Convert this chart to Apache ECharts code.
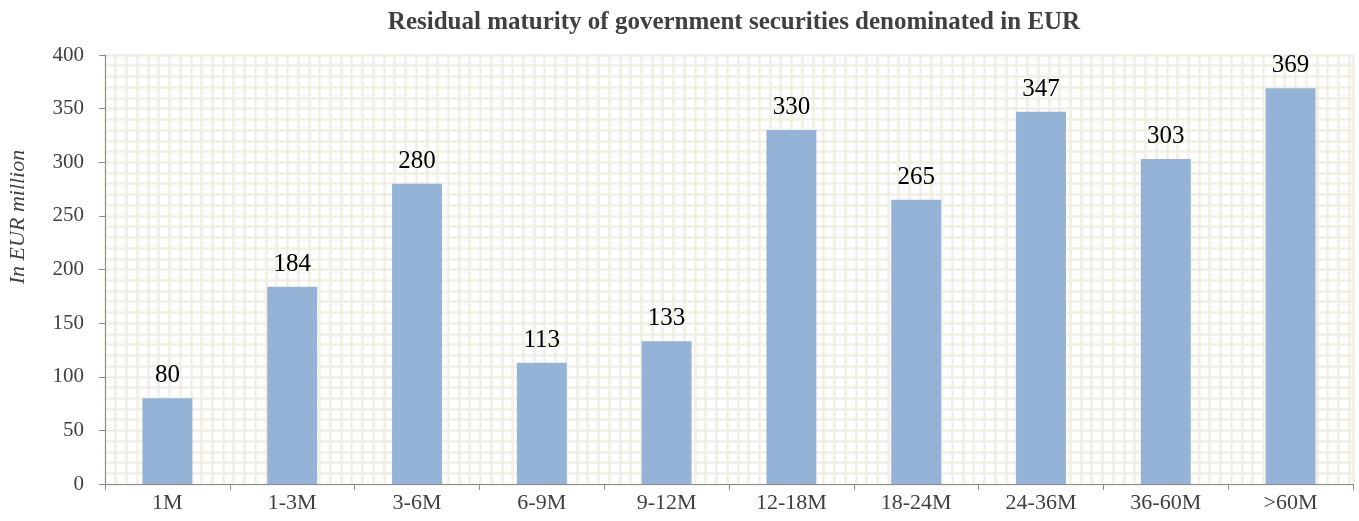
<!DOCTYPE html>
<html>
<head>
<meta charset="utf-8">
<script src="https://cdn.jsdelivr.net/npm/echarts@6/dist/echarts.min.js"></script>
<style>
  html, body { margin: 0; padding: 0; background: #fff; }
  #chart { width: 1359px; height: 521px; }
</style>
</head>
<body>
<div id="chart"></div>
<script>
// Residual maturity buckets and outstanding amounts (EUR million)
const maturities = ['1M', '1-3M', '3-6M', '6-9M', '9-12M', '12-18M', '18-24M', '24-36M', '36-60M', '>60M'];
const amounts = [80, 184, 280, 113, 133, 330, 265, 347, 303, 369];
const yTicks = { min: 0, max: 400, interval: 50 };

const serif = '"Liberation Serif", "Times New Roman", serif';
const meshColor = '#F0EEE5';
const axisColor = '#8C8C8C';
const textColor = '#404040';

const chart = echarts.init(document.getElementById('chart'));

// Plot area geometry; vertical mesh lines use the same spacing as the horizontal ones
const gridLeft = 105, gridRight = 6, gridTop = 55, gridBottom = 37;
const plotW = 1359 - gridLeft - gridRight;
const plotH = 521 - gridTop - gridBottom;
const meshStep = plotH / 40; // one mesh cell = 10 units on the value axis

chart.setOption({
  animation: false,
  title: {
    text: 'Residual maturity of government securities denominated in EUR',
    left: gridLeft + plotW / 2,
    textAlign: 'center',
    top: 5,
    textStyle: { fontFamily: serif, fontWeight: 'bold', fontSize: 25, color: textColor }
  },
  grid: { left: gridLeft, right: gridRight, top: gridTop, bottom: gridBottom },
  xAxis: [
    {
      type: 'category',
      data: maturities,
      axisLine: { lineStyle: { color: axisColor, width: 1 } },
      axisTick: { show: true, length: 6, lineStyle: { color: axisColor } },
      axisLabel: { fontFamily: serif, fontSize: 22, color: textColor, margin: 8 },
      z: 5
    },
    {
      // hidden axis that only draws the vertical mesh lines
      type: 'value',
      min: 0,
      max: plotW / meshStep,
      interval: 1,
      position: 'bottom',
      axisLine: { show: false },
      axisTick: { show: false },
      axisLabel: { show: false },
      splitLine: { show: true, lineStyle: { color: meshColor, width: 2.5 } }
    }
  ],
  yAxis: {
    type: 'value',
    min: yTicks.min,
    max: yTicks.max,
    interval: yTicks.interval,
    axisLine: { show: true, lineStyle: { color: axisColor, width: 1 } },
    axisTick: { show: true, length: 6, lineStyle: { color: axisColor } },
    axisLabel: { fontFamily: serif, fontSize: 21, color: textColor, margin: 21 },
    splitLine: { show: true, lineStyle: { color: meshColor, width: 2.5 } },
    minorTick: { show: false, splitNumber: 5 },
    minorSplitLine: { show: true, lineStyle: { color: meshColor, width: 2.5 } }
  },
  graphic: [{
    type: 'text',
    x: 18,
    y: 217,
    rotation: Math.PI / 2,
    style: {
      text: 'In EUR million',
      font: 'italic 22px ' + serif,
      fill: textColor,
      textAlign: 'center',
      textVerticalAlign: 'middle'
    }
  }],
  series: [{
    type: 'bar',
    xAxisIndex: 0,
    data: amounts,
    barWidth: '40%',
    itemStyle: { color: '#95B3D7' },
    label: {
      show: true,
      position: 'top',
      distance: 10,
      fontFamily: serif,
      fontSize: 25,
      color: '#000'
    },
    z: 3
  }]
});
</script>
</body>
</html>
